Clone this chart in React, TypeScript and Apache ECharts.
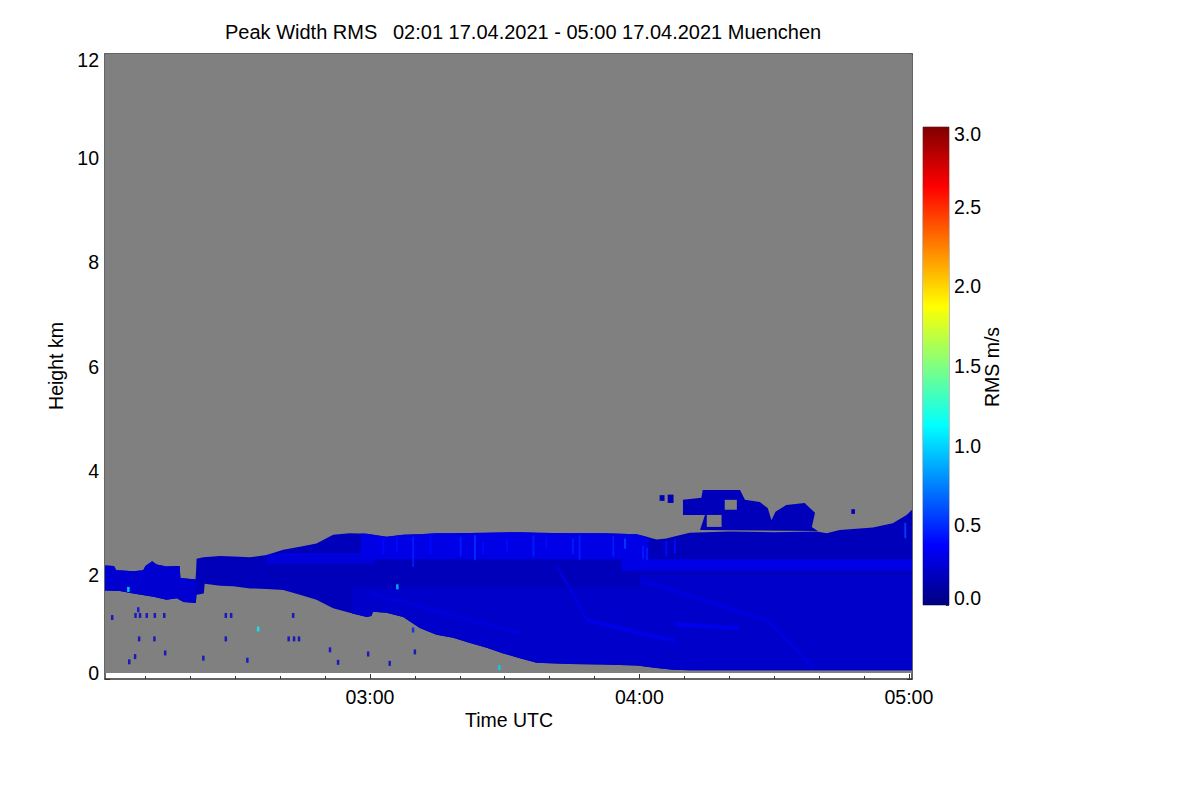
import React, { useEffect, useRef } from 'react';
import * as echarts from 'echarts';

// ---------- data (time in minutes after 00:00 UTC, height in km, RMS in m/s) ----------
const timeRange = [121, 300.7];
const heightRange = [0.115, 12];

const topTime = [121.0, 123.0, 123.5, 127.3, 129.5, 130.0, 131.5, 132.5, 134.7, 137.6, 137.8, 141.2, 141.4, 142.9, 146.6, 149.6, 153.3, 157.0, 160.7, 164.4, 168.1, 170.0, 171.8, 175.5, 179.3, 183.7, 187.4, 191.1, 194.8, 198.5, 206.0, 213.4, 217.1, 224.5, 231.9, 239.4, 242.0, 243.8, 246.0, 247.5, 251.2, 260.0, 270.0, 279.5, 281.7, 284.6, 292.0, 296.4, 299.5, 300.7];
const topHeight = [2.18, 2.17, 2.09, 2.07, 2.09, 2.17, 2.26, 2.2, 2.16, 2.17, 1.94, 1.91, 2.31, 2.34, 2.36, 2.35, 2.34, 2.38, 2.48, 2.54, 2.6, 2.69, 2.77, 2.8, 2.79, 2.73, 2.77, 2.78, 2.8, 2.8, 2.81, 2.82, 2.81, 2.8, 2.8, 2.78, 2.72, 2.68, 2.7, 2.73, 2.81, 2.83, 2.82, 2.83, 2.8, 2.86, 2.91, 2.99, 3.15, 3.25];

const bottomTime = [121.0, 124.3, 127.3, 130.3, 131.8, 134.7, 137.0, 138.5, 141.2, 141.4, 143.0, 143.2, 146.6, 149.6, 153.3, 157.0, 160.7, 164.4, 168.1, 171.8, 175.5, 179.3, 180.3, 180.7, 183.7, 187.4, 191.1, 194.8, 198.5, 202.3, 206.0, 209.7, 213.4, 217.1, 224.5, 231.9, 239.4, 243.8, 247.5, 251.2, 300.7];
const bottomHeight = [1.7, 1.69, 1.64, 1.6, 1.58, 1.52, 1.55, 1.48, 1.46, 1.62, 1.64, 1.83, 1.79, 1.78, 1.74, 1.73, 1.71, 1.62, 1.52, 1.36, 1.27, 1.19, 1.21, 1.29, 1.27, 1.19, 0.98, 0.85, 0.79, 0.69, 0.6, 0.49, 0.4, 0.31, 0.29, 0.28, 0.26, 0.21, 0.18, 0.17, 0.17];

const layerRms = 0.17;

// zones inside the layer (clipped to the layer's top and bottom)
const zoneStart = [121, 157, 176, 178, 240, 236];
const zoneEnd = [141.3, 181, 240, 242, 300.7, 300.7];
const zoneLow = [0, 2.22, 0, 2.3, 0, 2.08];
const zoneHigh = [12, 2.42, 1.75, 12, 2.0, 2.3];
const zoneRms = [0.24, 0.27, 0.22, 0.3, 0.22, 0.3];

// lighter diagonal streaks
const streakTimes = [
  [221.6, 226.0, 228.3, 240.1, 248.0],
  [240.1, 268.4, 278.6],
  [248.0, 262.0],
  [180.0, 213.4],
];
const streakHeights = [
  [2.16, 1.52, 1.13, 0.88, 0.74],
  [1.9, 1.13, 0.23],
  [1.05, 0.98],
  [1.65, 0.88],
];
const streakRms = [0.3, 0.28, 0.32, 0.26];

// short vertical lighter streaks near the layer top
const vStreakTime = [183.0, 186.0, 189.6, 193.5, 200.2, 203.4, 205.2, 210.5, 216.4, 219.3, 225.2, 226.7, 234.2, 236.8, 240.8, 241.7, 246.0, 247.9, 299.2];
const vStreakLow = [2.4, 2.45, 2.15, 2.4, 2.35, 2.28, 2.4, 2.45, 2.35, 2.5, 2.4, 2.28, 2.35, 2.5, 2.3, 2.28, 2.35, 2.4, 2.7];
const vStreakHigh = [2.7, 2.72, 2.73, 2.75, 2.73, 2.76, 2.63, 2.7, 2.76, 2.72, 2.7, 2.76, 2.74, 2.7, 2.55, 2.52, 2.65, 2.68, 3.0];
const vStreakRms = [0.4, 0.4, 0.45, 0.4, 0.45, 0.5, 0.4, 0.4, 0.45, 0.4, 0.45, 0.45, 0.45, 0.55, 0.45, 0.45, 0.4, 0.4, 0.55];

// cloud above the layer around 04:10 - 04:40
const cloudTime = [253.5, 254.6, 249.7, 249.7, 253.8, 254.1, 262.4, 263.5, 266.8, 268.6, 269.4, 270.3, 272.7, 276.8, 279.1, 278.4, 279.7];
const cloudHeight = [2.86, 3.15, 3.15, 3.44, 3.48, 3.63, 3.63, 3.44, 3.4, 3.28, 3.05, 3.21, 3.34, 3.38, 3.19, 2.92, 2.84];
const cloudRms = 0.17;

const blobStart = [244.5, 246.3, 287.2];
const blobEnd = [245.6, 247.6, 288.0];
const blobLow = [3.42, 3.38, 3.17];
const blobHigh = [3.53, 3.54, 3.26];
const blobRms = [0.17, 0.17, 0.17];

// gray gaps (no signal) inside the cloud
const gapStart = [255.0, 259.0];
const gapEnd = [258.3, 261.7];
const gapLow = [2.92, 3.25];
const gapHigh = [3.15, 3.44];

// isolated speckles
const speckTime = [122.6, 128.4, 127.8, 128.8, 130.3, 132.1, 134.2, 128.6, 132.0, 134.4, 127.7, 126.4, 142.9, 147.9, 149.1, 147.9, 152.7, 155.1, 162.9, 161.9, 163.1, 164.2, 171.1, 172.9, 179.6, 190.0, 184.4, 189.6, 208.8, 126.2, 186.1];
const speckHeight = [1.18, 1.33, 1.22, 1.22, 1.22, 1.22, 1.22, 0.77, 0.77, 0.5, 0.43, 0.33, 0.4, 1.22, 1.22, 0.77, 0.36, 0.96, 1.22, 0.77, 0.77, 0.77, 0.56, 0.32, 0.48, 0.52, 0.3, 0.94, 0.22, 1.72, 1.77];
const speckRms = [0.2, 0.3, 0.22, 0.22, 0.22, 0.22, 0.22, 0.22, 0.22, 0.22, 0.22, 0.22, 0.22, 0.22, 0.22, 0.22, 0.22, 1.1, 0.22, 0.22, 0.22, 0.22, 0.22, 0.22, 0.22, 0.22, 0.22, 0.45, 1.0, 1.1, 1.0];

// axes
const minorTimeTicks = [130, 140, 150, 160, 170, 180, 190, 200, 210, 220, 230, 240, 250, 260, 270, 280, 290, 300];
const hourTicks = [180, 240, 300];
const heightMax = 12;
const rmsMax = 3;

const titleLeft = 'Peak Width RMS';
const titleRight = '02:01 17.04.2021 - 05:00 17.04.2021 Muenchen';

const jetColors = ['#000080', '#0000ff', '#0080ff', '#00ffff', '#80ff80', '#ffff00', '#ff8000', '#ff0000', '#800000'];
const noSignalColor = '#808080';

// ---------- geometry helpers ----------
const FONT = '"Liberation Sans", Arial, Helvetica, sans-serif';
const FRAME = '#333333';

function at(ts: number[], hs: number[], t: number): number {
  if (t <= ts[0]) return hs[0];
  for (let i = 1; i < ts.length; i++) {
    if (t <= ts[i]) {
      const d = ts[i] - ts[i - 1];
      const f = d > 0 ? (t - ts[i - 1]) / d : 1;
      return hs[i - 1] + f * (hs[i] - hs[i - 1]);
    }
  }
  return hs[hs.length - 1];
}

function rectPts(t0: number, t1: number, h0: number, h1: number): number[][] {
  return [[t0, h0], [t1, h0], [t1, h1], [t0, h1]];
}

function zonePts(t0: number, t1: number, lo: number, hi: number): number[][] {
  const inner = [...topTime, ...bottomTime].filter((t) => t > t0 && t < t1);
  const ts = Array.from(new Set([t0, ...inner, t1])).sort((a, b) => a - b);
  const upper = ts.map((t) => [t, Math.min(hi, at(topTime, topHeight, t))]);
  const lower = ts.map((t) => [t, Math.max(lo, at(bottomTime, bottomHeight, t))]).reverse();
  return [...upper, ...lower];
}

type Region = { pts: number[][]; rms: number };

function buildRegions(): Region[] {
  const regions: Region[] = [];
  regions.push({ pts: rectPts(timeRange[0], timeRange[1], heightRange[0], heightRange[1]), rms: -1 });
  const layer = [
    ...topTime.map((t, i) => [t, topHeight[i]]),
    ...bottomTime.map((t, i) => [t, bottomHeight[i]]).reverse(),
  ];
  regions.push({ pts: layer, rms: layerRms });
  zoneStart.forEach((t0, i) => {
    regions.push({ pts: zonePts(t0, zoneEnd[i], zoneLow[i], zoneHigh[i]), rms: zoneRms[i] });
  });
  const w = 0.08;
  streakTimes.forEach((ts, k) => {
    const hs = streakHeights[k];
    const up = ts.map((t, i) => [t, hs[i] + w / 2]);
    const dn = ts.map((t, i) => [t, hs[i] - w / 2]).reverse();
    regions.push({ pts: [...up, ...dn], rms: streakRms[k] });
  });
  vStreakTime.forEach((t, i) => {
    const hi = Math.min(vStreakHigh[i], at(topTime, topHeight, t) - 0.03);
    regions.push({ pts: rectPts(t - 0.2, t + 0.2, vStreakLow[i], hi), rms: vStreakRms[i] });
  });
  regions.push({ pts: cloudTime.map((t, i) => [t, cloudHeight[i]]), rms: cloudRms });
  blobStart.forEach((t0, i) => {
    regions.push({ pts: rectPts(t0, blobEnd[i], blobLow[i], blobHigh[i]), rms: blobRms[i] });
  });
  gapStart.forEach((t0, i) => {
    regions.push({ pts: rectPts(t0, gapEnd[i], gapLow[i], gapHigh[i]), rms: -1 });
  });
  return regions;
}

function hhmm(v: number): string {
  const h = Math.floor(v / 60);
  const m = Math.round(v - h * 60);
  return String(h).padStart(2, '0') + ':' + String(m).padStart(2, '0');
}

export default function App() {
  const ref = useRef<HTMLDivElement>(null);

  useEffect(() => {
    if (!ref.current) return;
    const chart = echarts.init(ref.current, undefined, { renderer: 'svg' });
    const regions = buildRegions();

    const labelStyle = { color: '#000', fontFamily: FONT, fontSize: 19.5 };
    const lineStyle = { color: FRAME, width: 1.5 };
    const tickStyle = { color: FRAME, width: 1 };

    const gradStops = jetColors.map((c, k) => ({ offset: k / (jetColors.length - 1), color: jetColors[jetColors.length - 1 - k] }));

    const option: any = {
      animation: false,
      backgroundColor: '#ffffff',
      grid: [
        { left: 105, top: 54, width: 807, height: 625, show: false },
        { left: 923, top: 127, width: 26, height: 478, show: true, borderColor: '#7a7a7a', borderWidth: 1, backgroundColor: 'transparent' },
      ],
      xAxis: [
        {
          type: 'value', gridIndex: 0, position: 'bottom', min: timeRange[0], max: timeRange[1],
          axisLine: { show: true, lineStyle },
          axisTick: { show: true, inside: true, length: 3, customValues: minorTimeTicks, lineStyle: tickStyle },
          axisLabel: { show: true, customValues: hourTicks, formatter: (v: number) => hhmm(v), margin: 8, ...labelStyle },
          splitLine: { show: false },
        },
        {
          type: 'value', gridIndex: 0, position: 'bottom', min: timeRange[0], max: timeRange[1],
          axisLine: { show: false },
          axisTick: { show: true, inside: true, length: 5, customValues: hourTicks, lineStyle: tickStyle },
          axisLabel: { show: false },
          splitLine: { show: false },
        },
        {
          type: 'value', gridIndex: 0, position: 'top', min: timeRange[0], max: timeRange[1],
          axisLine: { show: true, lineStyle },
          axisTick: { show: true, inside: true, length: 3, customValues: minorTimeTicks, lineStyle: tickStyle },
          axisLabel: { show: false },
          splitLine: { show: false },
        },
        {
          type: 'value', gridIndex: 0, position: 'top', min: timeRange[0], max: timeRange[1],
          axisLine: { show: false },
          axisTick: { show: true, inside: true, length: 5, customValues: hourTicks, lineStyle: tickStyle },
          axisLabel: { show: false },
          splitLine: { show: false },
        },
        { type: 'category', gridIndex: 1, data: ['RMS'], show: false },
      ],
      yAxis: [
        {
          type: 'value', gridIndex: 0, position: 'left', min: 0, max: heightMax, interval: 2,
          axisLine: { show: true, lineStyle },
          axisTick: { show: true, inside: true, length: 5, lineStyle: tickStyle },
          minorTick: { show: true, splitNumber: 4, length: 3, lineStyle: tickStyle },
          axisLabel: { show: true, margin: 6, lineHeight: 12, verticalAlignMinLabel: 'bottom', verticalAlignMaxLabel: 'top', ...labelStyle },
          splitLine: { show: false }, minorSplitLine: { show: false },
        },
        {
          type: 'value', gridIndex: 0, position: 'right', min: 0, max: heightMax, interval: 2,
          axisLine: { show: true, lineStyle },
          axisTick: { show: true, inside: true, length: 5, lineStyle: tickStyle },
          minorTick: { show: true, splitNumber: 4, length: 3, lineStyle: tickStyle },
          axisLabel: { show: false },
          splitLine: { show: false }, minorSplitLine: { show: false },
        },
        {
          type: 'value', gridIndex: 1, position: 'right', min: 0, max: rmsMax, interval: 0.5,
          axisLine: { show: false },
          axisTick: { show: true, inside: true, length: 3, lineStyle: tickStyle },
          minorTick: { show: true, splitNumber: 3, length: 2, lineStyle: tickStyle },
          axisLabel: { show: true, margin: 5, lineHeight: 14, verticalAlignMinLabel: 'bottom', verticalAlignMaxLabel: 'top', formatter: (v: number) => v.toFixed(1), ...labelStyle },
          splitLine: { show: false }, minorSplitLine: { show: false },
        },
      ],
      visualMap: {
        type: 'continuous', show: false, min: 0, max: rmsMax, dimension: 2, seriesIndex: [0, 1],
        inRange: { color: jetColors },
      },
      series: [
        {
          type: 'custom', name: 'Peak Width RMS', xAxisIndex: 0, yAxisIndex: 0, silent: true,
          encode: { x: 0, y: 1 },
          data: regions.map((r, i) => [r.pts[0][0], r.pts[0][1], r.rms, i]),
          renderItem: (_params: any, api: any) => {
            const r = regions[api.value(3) as number];
            const points = r.pts.map((p) => api.coord(p));
            const fill = r.rms < 0 ? noSignalColor : api.visual('color');
            return { type: 'polygon', shape: { points }, style: { fill } };
          },
        },
        {
          type: 'scatter', name: 'speckles', xAxisIndex: 0, yAxisIndex: 0, silent: true,
          symbol: 'rect', symbolSize: [2.5, 5],
          data: speckTime.map((t, i) => [t, speckHeight[i], speckRms[i]]),
        },
        {
          type: 'bar', name: 'colorbar', xAxisIndex: 4, yAxisIndex: 2, silent: true, barWidth: '100%',
          data: [rmsMax],
          itemStyle: { color: new echarts.graphic.LinearGradient(0, 0, 0, 1, gradStops) },
        },
      ],
      graphic: [
        { type: 'text', x: 225, y: 32, style: { text: titleLeft, fill: '#000', font: `20px ${FONT}`, textAlign: 'left', textVerticalAlign: 'middle' } },
        { type: 'text', x: 393, y: 32, style: { text: titleRight, fill: '#000', font: `20px ${FONT}`, textAlign: 'left', textVerticalAlign: 'middle' } },
        { type: 'text', x: 509, y: 720, style: { text: 'Time UTC', fill: '#000', font: `19.5px ${FONT}`, textAlign: 'center', textVerticalAlign: 'middle' } },
        { type: 'text', x: 56, y: 366, rotation: Math.PI / 2, style: { text: 'Height km', fill: '#000', font: `19.5px ${FONT}`, textAlign: 'center', textVerticalAlign: 'middle' } },
        { type: 'text', x: 992, y: 367, rotation: Math.PI / 2, style: { text: 'RMS m/s', fill: '#000', font: `19.5px ${FONT}`, textAlign: 'center', textVerticalAlign: 'middle' } },
      ],
    };

    chart.setOption(option);
    return () => chart.dispose();
  }, []);

  return <div ref={ref} style={{ position: 'fixed', left: 0, top: 0, width: 1200, height: 800 }} />;
}
